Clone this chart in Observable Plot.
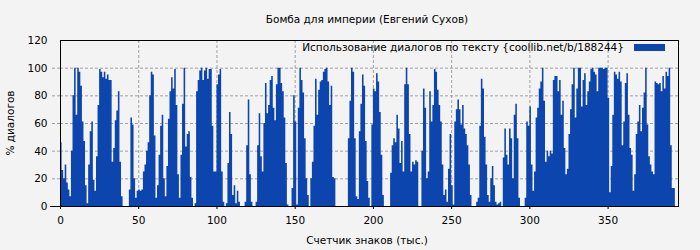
<!DOCTYPE html>
<html><head><meta charset="utf-8">
<script src="https://cdn.jsdelivr.net/npm/d3@7"></script>
<script src="https://cdn.jsdelivr.net/npm/@observablehq/plot@0.6"></script>
<style>
html,body{margin:0;padding:0;background:#f3f3f3;}
#chart{position:relative;width:700px;height:250px;}
</style></head><body><div id="chart"></div>
<script>
const titleText = "Бомба для империи (Евгений Сухов)";
const legendText = "Использование диалогов по тексту {coollib.net/b/188244}";
const xLabel = "Счетчик знаков (тыс.)";
const yLabel = "% диалогов";
const xTicks = [0, 50, 100, 150, 200, 250, 300, 350];
const yTicks = [0, 20, 40, 60, 80, 100, 120];
const values = [
  46, 26, 20, 30, 17, 12, 7, 40, 80, 100,
  66, 100, 97, 87, 61, 47, 15, 2, 30, 54,
  61, 19, 11, 36, 73, 99, 97, 93, 97, 92,
  95, 91, 91, 32, 42, 62, 69, 83, 32, 7,
  0, 0, 0, 0, 12, 64, 59, 20, 6, 11,
  12, 11, 12, 25, 30, 40, 46, 80, 97, 95,
  51, 6, 15, 37, 58, 66, 20, 7, 29, 63,
  83, 93, 85, 99, 73, 23, 6, 37, 74, 100,
  43, 52, 54, 21, 6, 0, 2, 83, 91, 98,
  100, 91, 98, 100, 92, 99, 99, 58, 25, 25,
  88, 95, 99, 25, 3, 0, 2, 31, 68, 52,
  8, 15, 2, 11, 3, 0, 0, 0, 3, 44,
  77, 23, 3, 0, 0, 3, 44, 67, 36, 25,
  60, 89, 67, 73, 91, 94, 71, 62, 88, 100,
  100, 89, 83, 64, 31, 1, 0, 0, 13, 80,
  61, 1, 71, 100, 91, 82, 49, 20, 8, 0,
  20, 32, 58, 92, 66, 84, 90, 91, 97, 99,
  100, 90, 73, 87, 21, 20, 0, 0, 0, 0,
  0, 0, 0, 0, 49, 76, 100, 97, 49, 7,
  5, 54, 74, 95, 87, 47, 18, 6, 0, 59,
  85, 83, 96, 90, 68, 37, 8, 0, 0, 0,
  0, 24, 44, 49, 46, 66, 56, 31, 47, 25,
  88, 100, 88, 52, 25, 32, 30, 33, 32, 0,
  0, 40, 85, 71, 20, 25, 83, 61, 73, 99,
  97, 84, 73, 61, 30, 8, 12, 3, 27, 52,
  15, 1, 61, 70, 77, 70, 59, 73, 56, 52,
  44, 30, 8, 0, 0, 0, 3, 6, 58, 92,
  85, 50, 30, 8, 3, 20, 29, 15, 3, 1,
  2, 3, 0, 35, 56, 37, 30, 56, 49, 20,
  66, 74, 49, 6, 0, 0, 0, 6, 61, 58,
  72, 30, 11, 25, 64, 71, 85, 90, 100, 76,
  32, 40, 36, 40, 38, 91, 94, 94, 83, 91,
  66, 76, 42, 23, 27, 52, 70, 88, 100, 64,
  85, 100, 100, 72, 91, 96, 73, 83, 90, 99,
  100, 97, 95, 83, 100, 100, 100, 99, 100, 100,
  78, 10, 29, 66, 97, 95, 92, 97, 90, 44,
  61, 89, 96, 66, 42, 37, 11, 23, 52, 61,
  73, 54, 71, 82, 100, 59, 36, 30, 25, 23,
  90, 89, 88, 89, 83, 94, 85, 97, 94, 100,
  44, 13, 13
];
const barColor = "#0b45ad";
// each bar spans [i, i+1]; drawn as a step area so adjacent bars join without seams
const data = values.map((v, i) => ({x: i, y: v}));
data.push({x: values.length, y: values[values.length - 1]});

const font = "'DejaVu Sans', sans-serif";
const fs = "10.5px";
const plot = Plot.plot({
  width: 700, height: 250,
  marginLeft: 60, marginRight: 22, marginTop: 40, marginBottom: 44,
  style: {background: "transparent", fontFamily: font, fontSize: fs, color: "#000", overflow: "visible"},
  x: {domain: [0, 395], label: null},
  y: {domain: [0, 120], label: null},
  marks: [
    Plot.gridX(xTicks.slice(1), {stroke: "#a0a0a0", strokeOpacity: 1, strokeDasharray: "3,2"}),
    Plot.gridY(yTicks.slice(1, -1), {stroke: "#a0a0a0", strokeOpacity: 1, strokeDasharray: "3,2"}),
    Plot.areaY(data, {x: "x", y: "y", curve: "step-after", fill: barColor}),
    Plot.axisY(yTicks.slice(1, -1), {tickSize: 10, tickPadding: 3, stroke: "#a0a0a0", strokeDasharray: "3,2", text: null}),
    Plot.axisY([0], {tickSize: 10, tickPadding: 3, stroke: "#000", text: null}),
    Plot.axisY(yTicks, {tickSize: 0, tickPadding: 13, fontSize: 10.5}),
    Plot.axisX(xTicks, {tickSize: 3, tickPadding: 7, fontSize: 10.5}),
    Plot.frame({stroke: "#000", strokeWidth: 1})
  ]
});
const chart = document.getElementById("chart");
chart.appendChild(plot);

const svg = d3.select(plot);
const addText = (x, y, t, opts = {}) => svg.append("text")
  .attr("x", x).attr("y", y).attr("text-anchor", opts.anchor || "middle")
  .attr("dominant-baseline", "central")
  .attr("transform", opts.rotate ? `rotate(-90 ${x} ${y})` : null)
  .style("font-family", font).style("font-size", fs).attr("fill", "#000").text(t);
addText(367, 19, titleText);
addText(367, 240, xLabel);
addText(10, 123, yLabel, {rotate: true});
addText(624, 47, legendText, {anchor: "end"});
svg.append("rect").attr("x", 634).attr("y", 44).attr("width", 31).attr("height", 7).attr("fill", barColor);
</script></body></html>
